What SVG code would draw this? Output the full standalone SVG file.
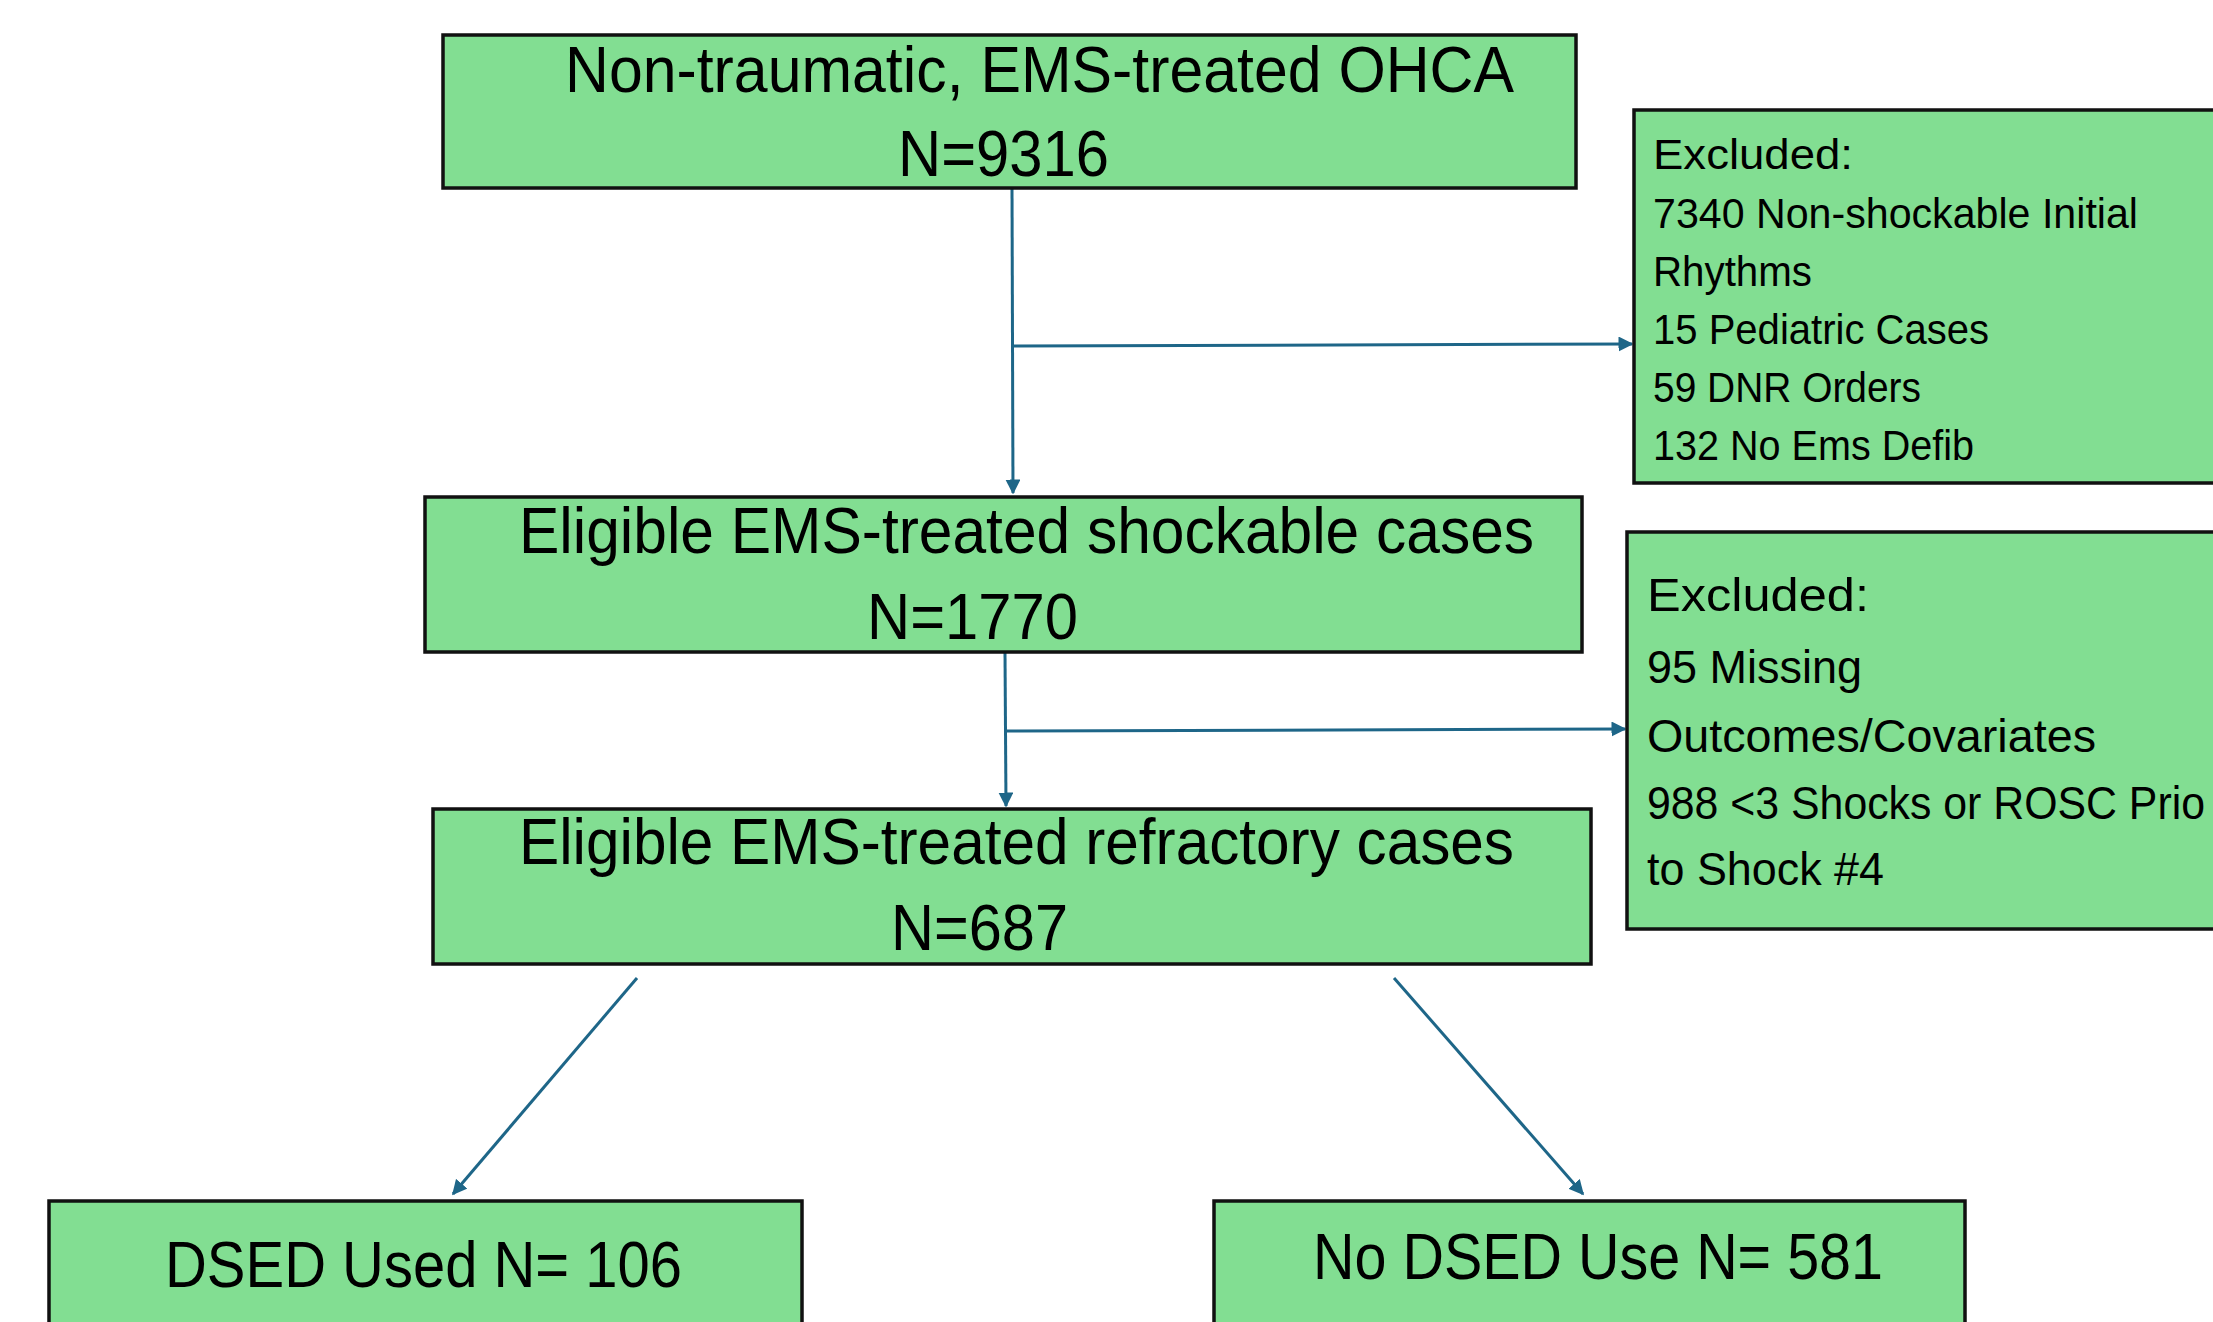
<svg xmlns="http://www.w3.org/2000/svg" width="2213" height="1322" viewBox="0 0 2213 1322">
<style>
.box{fill:#82DE92;stroke:#111;stroke-width:3.5}
.t{font-family:"Liberation Sans",Arial,sans-serif;fill:#000}
.big{font-size:65px}
.ex1{font-size:42px}
.ex2{font-size:47px}
.c{fill:none;stroke:#1E6688;stroke-width:3}
</style>
<defs>
<marker id="ah" viewBox="0 0 10 10" refX="9" refY="5" markerWidth="5" markerHeight="5" orient="auto" markerUnits="strokeWidth">
<path d="M0,0 L10,5 L0,10 z" fill="#1E6688"/>
</marker>
</defs>
<rect width="2213" height="1322" fill="#fff"/>
<g id="connectors">
<line class="c" x1="1012" y1="189" x2="1013" y2="493" marker-end="url(#ah)"/>
<line class="c" x1="1013" y1="346" x2="1632" y2="344" marker-end="url(#ah)"/>
<line class="c" x1="1005" y1="653" x2="1006" y2="806" marker-end="url(#ah)"/>
<line class="c" x1="1006" y1="731" x2="1625" y2="729" marker-end="url(#ah)"/>
<line class="c" x1="637" y1="978" x2="453" y2="1194" marker-end="url(#ah)"/>
<line class="c" x1="1394" y1="978" x2="1583" y2="1194" marker-end="url(#ah)"/>
</g>
<g id="node-ohca">
<rect class="box" x="443" y="35" width="1133" height="153"/>
<text class="t big" x="565" y="92" textLength="949" lengthAdjust="spacingAndGlyphs">Non-traumatic, EMS-treated OHCA</text>
<text class="t big" x="898" y="176" textLength="211" lengthAdjust="spacingAndGlyphs">N=9316</text>
</g>
<g id="node-excluded1">
<rect class="box" x="1634" y="110" width="600" height="373"/>
<text class="t ex1" x="1653" y="169" textLength="200" lengthAdjust="spacingAndGlyphs">Excluded:</text>
<text class="t ex1" x="1653" y="228" textLength="485" lengthAdjust="spacingAndGlyphs">7340 Non-shockable Initial</text>
<text class="t ex1" x="1653" y="286" textLength="159" lengthAdjust="spacingAndGlyphs">Rhythms</text>
<text class="t ex1" x="1653" y="344" textLength="336" lengthAdjust="spacingAndGlyphs">15 Pediatric Cases</text>
<text class="t ex1" x="1653" y="402" textLength="268" lengthAdjust="spacingAndGlyphs">59 DNR Orders</text>
<text class="t ex1" x="1653" y="460" textLength="321" lengthAdjust="spacingAndGlyphs">132 No Ems Defib</text>
</g>
<g id="node-shockable">
<rect class="box" x="425" y="497" width="1157" height="155"/>
<text class="t big" x="519" y="553" textLength="1015" lengthAdjust="spacingAndGlyphs">Eligible EMS-treated shockable cases</text>
<text class="t big" x="867" y="639" textLength="211" lengthAdjust="spacingAndGlyphs">N=1770</text>
</g>
<g id="node-excluded2">
<rect class="box" x="1627" y="532" width="600" height="397"/>
<text class="t ex2" x="1647" y="611" textLength="222" lengthAdjust="spacingAndGlyphs">Excluded:</text>
<text class="t ex2" x="1647" y="683" textLength="215" lengthAdjust="spacingAndGlyphs">95 Missing</text>
<text class="t ex2" x="1647" y="752" textLength="449" lengthAdjust="spacingAndGlyphs">Outcomes/Covariates</text>
<text class="t ex2" x="1647" y="819" textLength="558" lengthAdjust="spacingAndGlyphs">988 &lt;3 Shocks or ROSC Prio</text>
<text class="t ex2" x="1647" y="885" textLength="237" lengthAdjust="spacingAndGlyphs">to Shock #4</text>
</g>
<g id="node-refractory">
<rect class="box" x="433" y="809" width="1158" height="155"/>
<text class="t big" x="519" y="864" textLength="995" lengthAdjust="spacingAndGlyphs">Eligible EMS-treated refractory cases</text>
<text class="t big" x="891" y="950" textLength="177" lengthAdjust="spacingAndGlyphs">N=687</text>
</g>
<g id="node-dsed">
<rect class="box" x="49" y="1201" width="753" height="140"/>
<text class="t big" x="165" y="1287" textLength="517" lengthAdjust="spacingAndGlyphs">DSED Used N= 106</text>
</g>
<g id="node-nodsed">
<rect class="box" x="1214" y="1201" width="751" height="140"/>
<text class="t big" x="1313" y="1279" textLength="570" lengthAdjust="spacingAndGlyphs">No DSED Use N= 581</text>
</g>
</svg>
